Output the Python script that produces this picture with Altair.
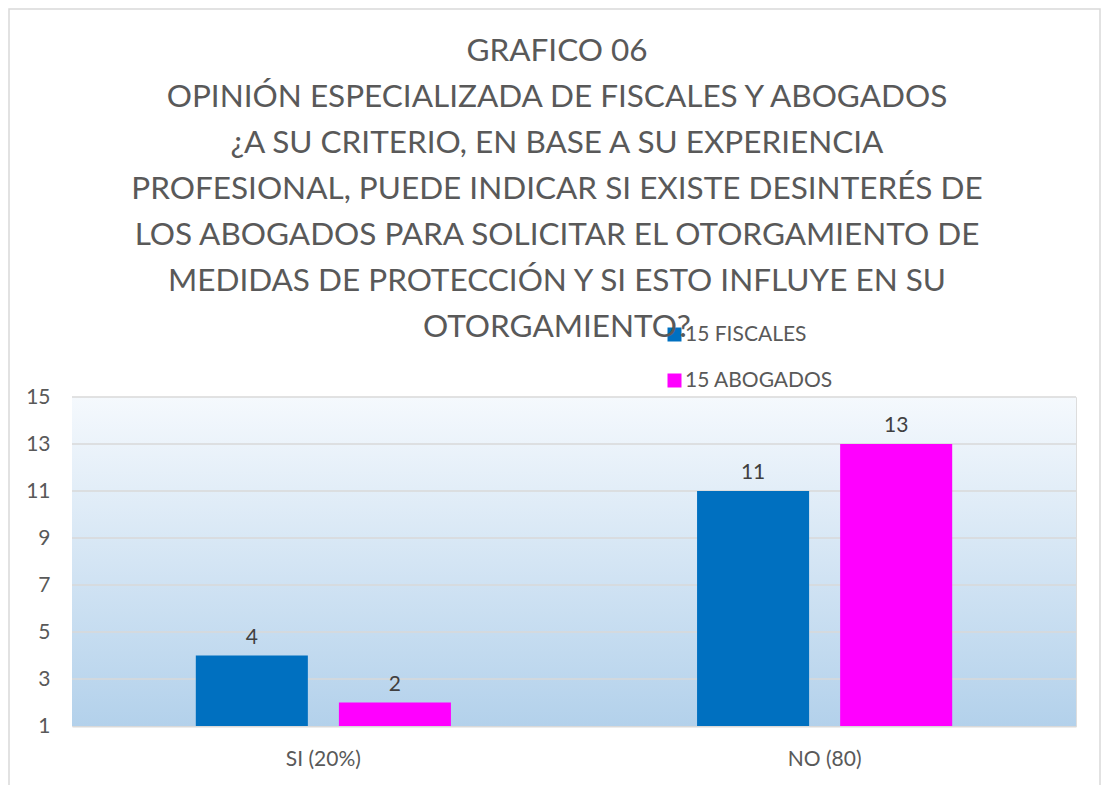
import altair as alt
import pandas as pd

categories = ["SI (20%)", "NO (80)"]
series = ["15 FISCALES", "15 ABOGADOS"]
fiscales = [4, 11]
abogados = [2, 13]
y_ticks = [1, 3, 5, 7, 9, 11, 13, 15]
grid_values = [3, 5, 7, 9, 11, 13, 15]
colors = ["#0070C0", "#FF00FF"]
title_lines = [
    "GRAFICO 06",
    "OPINIÓN ESPECIALIZADA DE FISCALES Y ABOGADOS",
    "¿A SU CRITERIO, EN BASE A SU EXPERIENCIA",
    "PROFESIONAL, PUEDE INDICAR SI EXISTE DESINTERÉS DE",
    "LOS ABOGADOS PARA SOLICITAR EL OTORGAMIENTO DE",
    "MEDIDAS DE PROTECCIÓN Y SI ESTO INFLUYE EN SU",
    "OTORGAMIENTO?",
]

rows = []
for i, c in enumerate(categories):
    rows.append({"cat": c, "serie": series[0], "value": fiscales[i]})
    rows.append({"cat": c, "serie": series[1], "value": abogados[i]})
df = pd.DataFrame(rows)
grid_df = pd.DataFrame({"v": grid_values})
one = pd.DataFrame({"k": [0]})

W, H = 1004, 329
FONT = "Lato"
TXT = "#595959"
FS = 21

yscale = alt.Scale(domain=[1, 15], zero=False, nice=False)
xscale = alt.Scale(domain=categories, paddingInner=0.491, paddingOuter=0.247)
offscale = alt.Scale(domain=series, paddingInner=0.217, paddingOuter=0)
yaxis = alt.Axis(values=y_ticks, grid=False, domain=False, ticks=False, labelPadding=22,
                 labelFontSize=FS, labelColor=TXT, labelFont=FONT)

border = alt.Chart(one).mark_rect(fill="transparent", stroke="#D9D9D9", strokeWidth=1.5).encode(
    x=alt.value(-63), x2=alt.value(W + 24), y=alt.value(-388), y2=alt.value(H + 80)
)

bg = alt.Chart(one).mark_rect(
    color=alt.LinearGradient(
        gradient="linear",
        stops=[alt.GradientStop(color="#F5F9FD", offset=0), alt.GradientStop(color="#B3D1EB", offset=1)],
        x1=0, x2=0, y1=0, y2=1,
    )
).encode(x=alt.value(0), x2=alt.value(W), y=alt.value(0), y2=alt.value(H))

grid = alt.Chart(grid_df).mark_rule(color="#D9D9D9", strokeWidth=1.5).encode(
    y=alt.Y("v:Q", scale=yscale, axis=yaxis, title=None),
    x=alt.value(0), x2=alt.value(W),
)

base = alt.Chart(df).encode(
    x=alt.X("cat:N", scale=xscale, sort=categories, title=None,
            axis=alt.Axis(labelAngle=0, domain=True, domainColor="#D9D9D9", domainWidth=2,
                          ticks=False, labelPadding=22, labelFontSize=FS, labelColor=TXT, labelFont=FONT)),
    xOffset=alt.XOffset("serie:N", scale=offscale, sort=series),
)

bars = base.mark_bar().encode(
    y=alt.Y("value:Q", scale=yscale, title=None, axis=yaxis),
    y2=alt.datum(1),
    color=alt.Color("serie:N", sort=series, scale=alt.Scale(domain=series, range=colors),
                    legend=alt.Legend(title=None, orient="none", legendX=592, legendY=-73,
                                      symbolType="square", symbolSize=196, symbolStrokeWidth=0,
                                      labelFontSize=FS, labelColor=TXT, labelFont=FONT,
                                      rowPadding=24, labelOffset=0)),
)

labels = base.mark_text(baseline="bottom", dy=-8, fontSize=FS, color="#404040", font=FONT).encode(
    y=alt.Y("value:Q", scale=yscale, axis=yaxis, title=None),
    text=alt.Text("value:Q"),
)

chart = alt.layer(border, bg, grid, bars, labels).properties(
    width=W, height=H,
    autosize=alt.AutoSizeParams(type="none"),
    padding={"left": 64, "top": 389, "right": 25, "bottom": 59},
    title=alt.TitleParams(text=title_lines, fontSize=31.5, font=FONT, color=TXT, fontWeight="normal",
                          lineHeight=46, anchor="middle", frame="group", dx=-17, dy=339),
).configure_view(stroke=None).configure(background="white")

chart.save("out.html", embed_options={"renderer": "svg", "actions": False})
